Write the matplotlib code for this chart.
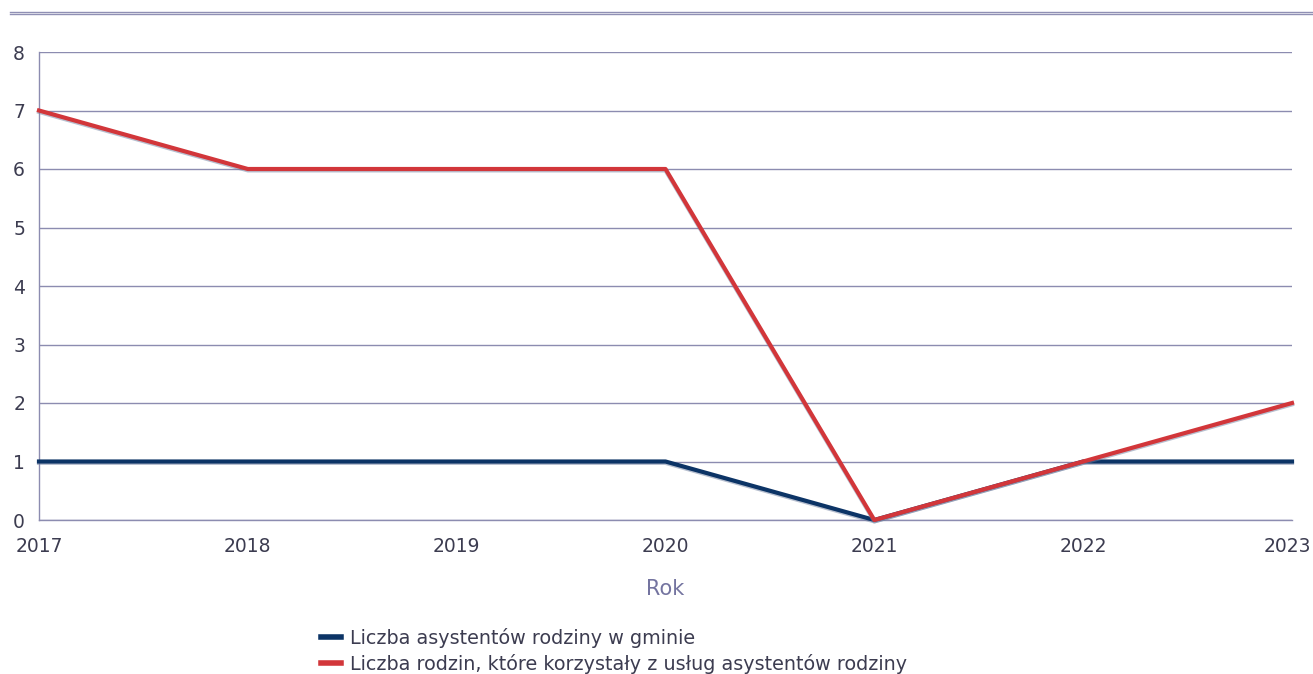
import matplotlib
matplotlib.use("Agg")
import matplotlib.pyplot as plt
import matplotlib.patheffects as pe
import matplotlib.transforms as mtransforms
from matplotlib.lines import Line2D

years = [2017, 2018, 2019, 2020, 2021, 2022, 2023]
asystenci = [1, 1, 1, 1, 0, 1, 1]
rodziny = [7, 6, 6, 6, 0, 1, 2]
series_labels = ["Liczba asystentów rodziny w gminie",
                 "Liczba rodzin, które korzystały z usług asystentów rodziny"]
y_ticks = [0, 1, 2, 3, 4, 5, 6, 7, 8]

W, H = 1313, 674
fig = plt.figure(figsize=(W / 100, H / 100), dpi=100)
ax = fig.add_axes([39 / W, 1 - 520 / H, (1292 - 39) / W, (520 - 52) / H])

grid_c = "#8c8cb0"
text_c = "#3c3c50"
navy = "#0c3466"
red = "#d2363a"

ax.set_xlim(years[0], years[-1])
ax.set_ylim(0, 8)
ax.set_yticks(y_ticks)
ax.set_xticks(years)
ax.grid(axis="y", color=grid_c, linewidth=1)
ax.set_axisbelow(True)
for s in ["top", "right"]:
    ax.spines[s].set_visible(False)
for s in ["left", "bottom"]:
    ax.spines[s].set_color(grid_c)
    ax.spines[s].set_linewidth(1)
ax.tick_params(length=0, labelsize=13.5, labelcolor=text_c)
ax.tick_params(axis="y", pad=10)
ax.tick_params(axis="x", pad=12)

# keep the last year label inside the figure
last = ax.get_xticklabels()[-1]
last.set_transform(last.get_transform() + mtransforms.ScaledTranslation(-5 / 100, 0, fig.dpi_scale_trans))

shadow = [pe.SimpleLineShadow(offset=(0, -1.0), shadow_color="#7080a0", alpha=0.5), pe.Normal()]
ax.plot(years, asystenci, color=navy, linewidth=3, path_effects=shadow, clip_on=False, zorder=3)
ax.plot(years, rodziny, color=red, linewidth=3, path_effects=shadow, clip_on=False, zorder=4)

ax.set_xlabel("Rok", color="#7474a0", fontsize=15, labelpad=17)

# top double rule
fig.add_artist(Line2D([10 / W, 1], [1 - 11.5 / H] * 2, color="#9090b4", linewidth=1))
fig.add_artist(Line2D([10 / W, 1], [1 - 13.5 / H] * 2, color="#9090b4", linewidth=1))

handles = [Line2D([], [], color=navy, linewidth=4), Line2D([], [], color=red, linewidth=4)]
leg = fig.legend(handles, series_labels, loc="upper left",
                 bbox_to_anchor=(321 / W, 1 - 628 / H), frameon=False,
                 fontsize=13.8, handlelength=1.05, handletextpad=0.45,
                 labelspacing=0.3, borderaxespad=0, borderpad=0)
for t in leg.get_texts():
    t.set_color(text_c)

fig.savefig("out.png", dpi=100)
